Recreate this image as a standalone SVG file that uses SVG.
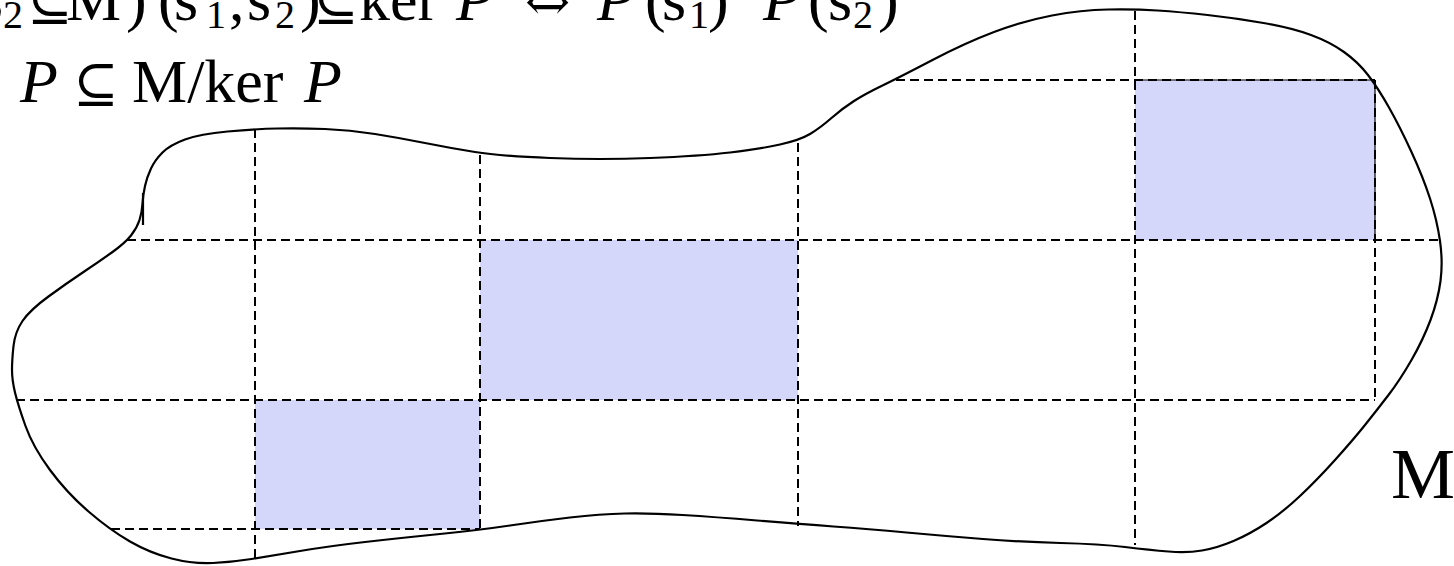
<svg xmlns="http://www.w3.org/2000/svg" width="1454" height="566" viewBox="0 0 1454 566">
<style>
.t{font-family:"Liberation Serif","DejaVu Serif",serif;font-size:62px;fill:#000}
.i{font-style:italic}
.sub{font-size:40px}
.op{font-family:"DejaVu Serif","Liberation Serif",serif;font-size:54px}
.cell{fill:#d4d6fa;stroke:none}
.dash{stroke:#000;stroke-width:2;stroke-dasharray:9 5;fill:none}
.edge{stroke:#000;stroke-width:1.2;fill:none}
.blob{stroke:#000;stroke-width:2.2;fill:none}
</style>
<rect width="1454" height="566" fill="#fff"/>
<g id="cells">
<rect class="cell" x="1135" y="80" width="240" height="160"/>
<rect class="cell" x="480" y="240" width="318" height="160"/>
<rect class="cell" x="255" y="400" width="225" height="129"/>
</g>
<g id="set-M">
<path class="blob" d="M 12,370 Q 12,360 13.5,346 Q 15,332 22.5,321 Q 30,310 48.5,296.5 Q 67,283 83.5,272 Q 100,261 112.5,252 Q 125,243 131,235.5 Q 137,228 139.5,220 Q 142,212 142.5,203.5 Q 143,195 145,186 Q 147,177 151,168.5 Q 155,160 162.5,152.5 Q 170,145 185,139.5 Q 200,134 227.5,131.5 Q 255,129 277.5,128.5 Q 300,128 325,129 Q 350,130 375,134 Q 400,138 425,143 Q 450,148 475,152 Q 500,156 550,158 Q 600,160 650,158 Q 700,156 730,152.5 Q 760,149 780,144.5 Q 800,140 810,134 Q 820,128 831.5,118 Q 843,108 854,101 Q 865,94 882.5,85.5 Q 900,77 932.5,60 Q 965,43 994,32 Q 1023,21 1052,15.5 Q 1081,10 1108,9.5 Q 1135,9 1157.5,10.5 Q 1180,12 1207.5,15 Q 1235,18 1263.5,23 Q 1292,28 1311,35 Q 1330,42 1344,52 Q 1358,62 1368,75 Q 1378,88 1389,107.5 Q 1400,127 1411.5,152 Q 1423,177 1430,198.5 Q 1437,220 1440,241 Q 1443,262 1440.5,281 Q 1438,300 1430.5,320 Q 1423,340 1411.5,360 Q 1400,380 1388.5,395 Q 1377,410 1365,425 Q 1353,440 1335,460 Q 1317,480 1300,496 Q 1283,512 1266.5,523 Q 1250,534 1233.5,541 Q 1217,548 1202,550.5 Q 1187,553 1168.5,551.5 Q 1150,550 1125,547 Q 1100,544 1060.5,543 Q 1021,542 983,539 Q 945,536 906.5,532.5 Q 868,529 833.5,526.5 Q 799,524 757,520.5 Q 715,517 682.5,515 Q 650,513 625,513.5 Q 600,514 570,517.5 Q 540,521 510,525.5 Q 480,530 440,534 Q 400,538 365,542 Q 330,546 300,551 Q 270,556 251.5,559 Q 233,562 213,563 Q 193,564 171.5,558.5 Q 150,553 130,541.5 Q 110,530 88.5,511.5 Q 67,493 50,470 Q 33,447 25.5,426 Q 18,405 15,392.5 Q 12,380 12,370 Z"/>
<line class="blob" x1="143" y1="193" x2="143" y2="225"/>
</g>
<g id="grid">
<line class="dash" x1="896" y1="80" x2="1375" y2="80"/>
<line class="dash" x1="127" y1="240" x2="1438" y2="240"/>
<line class="dash" x1="16" y1="400" x2="1375" y2="400"/>
<line class="dash" x1="111" y1="529" x2="480" y2="529"/>
<line class="dash" x1="255" y1="129" x2="255" y2="559"/>
<line class="dash" x1="480" y1="155" x2="480" y2="529"/>
<line class="dash" x1="798" y1="143" x2="798" y2="526"/>
<line class="dash" x1="1135" y1="11" x2="1135" y2="545"/>
<line class="dash" x1="1375" y1="80" x2="1375" y2="400"/>
<line class="edge" x1="1135" y1="80" x2="1375" y2="80"/>
<line class="edge" x1="1375" y1="80" x2="1375" y2="240"/>
</g>
<g id="labels">
<text class="t"><tspan x="-21" y="20">s</tspan><tspan class="sub" x="3" y="28">2</tspan><tspan class="op" x="27" y="20">⊆</tspan><tspan x="66" y="20">M</tspan><tspan x="126" y="20">)</tspan><tspan x="158" y="20">(</tspan><tspan x="174" y="20">s</tspan><tspan class="sub" x="206" y="28">1</tspan><tspan x="229" y="20">,</tspan><tspan x="247" y="20">s</tspan><tspan class="sub" x="275" y="28">2</tspan><tspan x="300" y="20">)</tspan><tspan class="op" x="313" y="20">⊆</tspan><tspan x="359" y="20">ker</tspan><tspan class="i" x="456" y="20">P</tspan><tspan class="op" x="525" y="20">⇔</tspan><tspan class="i" x="597" y="20">P</tspan><tspan x="645" y="20">(</tspan><tspan x="662" y="20">s</tspan><tspan class="sub" x="689" y="28">1</tspan><tspan x="708" y="20">)</tspan><tspan class="i" x="763" y="20">P</tspan><tspan x="808" y="20">(</tspan><tspan x="828" y="20">s</tspan><tspan class="sub" x="853" y="28">2</tspan><tspan x="878" y="20">)</tspan></text>
<text class="t"><tspan class="i" x="20" y="102">P</tspan><tspan class="op" x="73" y="102">⊆</tspan><tspan x="132" y="102">M/ker</tspan><tspan class="i" x="304" y="102">P</tspan></text>
<text class="t" style="font-size:72px" x="1391" y="498">M</text>
</g>
</svg>
